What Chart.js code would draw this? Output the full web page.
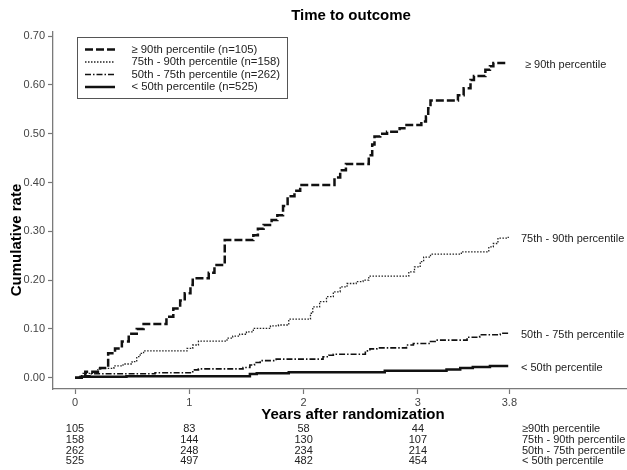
<!DOCTYPE html>
<html>
<head>
<meta charset="utf-8">
<script src="https://cdn.jsdelivr.net/npm/chart.js@4.4.0/dist/chart.umd.min.js"></script>
<style>
  html, body { margin: 0; padding: 0; background: #fff; }
  #wrap { width: 627px; height: 470px; }
</style>
</head>
<body>
<div id="wrap"><canvas id="chart"></canvas></div>
<script>
// === DATA ===
const legendLabels = [
  '\u2265 90th percentile (n=105)',
  '75th - 90th percentile (n=158)',
  '50th - 75th percentile (n=262)',
  '< 50th percentile (n=525)'
];
const endLabels = ['\u2265 90th percentile', '75th - 90th percentile', '50th - 75th percentile', '< 50th percentile'];
const tableLabels = ['\u226590th percentile', '75th - 90th percentile', '50th - 75th percentile', '< 50th percentile'];

// cumulative rate curves (time in years, rate)
const timesGE90 = [0, 0.09, 0.22, 0.29, 0.35, 0.41, 0.47, 0.54, 0.60, 0.80, 0.86, 0.92, 0.96, 1.01, 1.03, 1.17, 1.22, 1.31,
  1.56, 1.60, 1.65, 1.72, 1.77, 1.82, 1.86, 1.92, 1.97, 2.27, 2.32, 2.37, 2.57, 2.60, 2.62, 2.67, 2.73, 2.84, 2.90,
  3.03, 3.07, 3.09, 3.11, 3.35, 3.40, 3.46, 3.49, 3.59, 3.63, 3.66, 3.79];
const rateGE90 = [0, 0.012, 0.02, 0.05, 0.06, 0.074, 0.09, 0.10, 0.11, 0.125, 0.142, 0.158, 0.173, 0.19, 0.204, 0.215, 0.231, 0.282,
  0.292, 0.305, 0.313, 0.323, 0.333, 0.352, 0.372, 0.383, 0.395, 0.41, 0.425, 0.438, 0.456, 0.478, 0.494, 0.50, 0.504, 0.511, 0.518,
  0.525, 0.535, 0.552, 0.568, 0.579, 0.593, 0.61, 0.618, 0.631, 0.638, 0.645, 0.645];

const times75 = [0, 0.07, 0.20, 0.34, 0.42, 0.50, 0.54, 0.57, 0.60, 0.98, 1.03, 1.08, 1.33, 1.38, 1.44, 1.50, 1.56, 1.71, 1.78, 1.87,
  2.06, 2.08, 2.14, 2.20, 2.26, 2.32, 2.38, 2.46, 2.52, 2.57, 2.92, 2.97, 3.02, 3.05, 3.11, 3.38, 3.62, 3.66, 3.70, 3.79];
const rate75 = [0, 0.009, 0.019, 0.024, 0.028, 0.033, 0.043, 0.05, 0.055, 0.06, 0.067, 0.075, 0.081, 0.085, 0.089, 0.094, 0.101, 0.106, 0.108, 0.12,
  0.132, 0.145, 0.156, 0.166, 0.176, 0.186, 0.193, 0.197, 0.20, 0.208, 0.217, 0.227, 0.238, 0.247, 0.253, 0.258, 0.268, 0.275, 0.286, 0.289];

const times50 = [0, 0.04, 0.13, 0.70, 1.03, 1.08, 1.47, 1.53, 1.57, 1.62, 1.76, 2.17, 2.22, 2.26, 2.54, 2.58, 2.64, 2.90, 2.96,
  3.11, 3.16, 3.43, 3.54, 3.72, 3.79];
const rate50 = [0, 0.004, 0.008, 0.01, 0.016, 0.018, 0.021, 0.026, 0.031, 0.035, 0.038, 0.043, 0.046, 0.048, 0.055, 0.059, 0.061, 0.067, 0.07,
  0.074, 0.077, 0.083, 0.088, 0.091, 0.091];

const timesLT50 = [0, 0.05, 0.45, 1.53, 1.59, 1.87, 2.71, 3.25, 3.37, 3.48, 3.63, 3.79];
const rateLT50 = [0, 0.002, 0.003, 0.0075, 0.009, 0.011, 0.014, 0.017, 0.02, 0.022, 0.024, 0.024];

const xTicks = [0, 1, 2, 3, 3.8];
const yTicks = [0, 0.1, 0.2, 0.3, 0.4, 0.5, 0.6, 0.7];

// numbers at risk
const riskTimes = [0, 1, 2, 3];
const riskGE90 = [105, 83, 58, 44];
const risk75 = [158, 144, 130, 107];
const risk50 = [262, 248, 234, 214];
const riskLT50 = [525, 497, 482, 454];

const FONT = 'Arial, "Liberation Sans", Helvetica, sans-serif';

const toPoints = (xs, ys) => xs.map((t, i) => ({ x: t, y: ys[i] }));

// === EXTRA TEXT: title, axis titles, legend box, end labels, risk table ===
const annotations = {
  id: 'annotations',
  afterDraw(chart) {
    const ctx = chart.ctx;
    const xs = chart.scales.x, ys = chart.scales.y;
    const datasets = chart.data.datasets;
    ctx.save();

    ctx.fillStyle = '#000';
    ctx.textBaseline = 'middle';
    ctx.textAlign = 'center';
    ctx.font = 'bold 15px ' + FONT;
    ctx.fillText('Time to outcome', 351, 16);
    ctx.fillText('Years after randomization', 353, 415);
    ctx.save();
    ctx.translate(17, 240);
    ctx.rotate(-Math.PI / 2);
    ctx.fillText('Cumulative rate', 0, 0);
    ctx.restore();

    // legend
    ctx.setLineDash([]);
    ctx.lineWidth = 1;
    ctx.strokeStyle = '#555';
    ctx.strokeRect(77.5, 37.5, 210, 61);
    datasets.forEach((ds, i) => {
      const ly = 49.5 + i * 12.5;
      ctx.beginPath();
      ctx.setLineDash(ds.borderDash || []);
      ctx.lineWidth = ds.borderWidth;
      ctx.strokeStyle = ds.borderColor;
      ctx.moveTo(85, ly);
      ctx.lineTo(115, ly);
      ctx.stroke();
      ctx.setLineDash([]);
      ctx.font = '11.3px ' + FONT;
      ctx.textAlign = 'left';
      ctx.fillStyle = '#222';
      ctx.fillText(legendLabels[i], 131.5, ly);
    });

    // labels at curve ends
    ctx.font = '11px ' + FONT;
    ctx.fillStyle = '#222';
    ctx.textAlign = 'left';
    datasets.forEach((ds, i) => {
      const last = ds.data[ds.data.length - 1];
      ctx.fillText(endLabels[i], i === 0 ? 525 : 521, ys.getPixelForValue(last.y) + 2);
    });

    // risk table
    const rows = [riskGE90, risk75, risk50, riskLT50];
    rows.forEach((row, i) => {
      const ry = 429 + i * 10.8;
      ctx.textAlign = 'center';
      row.forEach((n, j) => ctx.fillText(String(n), xs.getPixelForValue(riskTimes[j]), ry));
      ctx.textAlign = 'left';
      ctx.fillText(tableLabels[i], 522, ry);
    });

    ctx.restore();
  }
};

const ctx = document.getElementById('chart').getContext('2d');
const chart = new Chart(ctx, {
  type: 'line',
  data: {
    datasets: [
      { label: legendLabels[0], data: toPoints(timesGE90, rateGE90), borderColor: '#111', borderWidth: 2.5, borderDash: [8, 3] },
      { label: legendLabels[1], data: toPoints(times75, rate75), borderColor: '#222', borderWidth: 1.3, borderDash: [1.5, 1.5] },
      { label: legendLabels[2], data: toPoints(times50, rate50), borderColor: '#111', borderWidth: 1.6, borderDash: [6, 2, 1.5, 2] },
      { label: legendLabels[3], data: toPoints(timesLT50, rateLT50), borderColor: '#111', borderWidth: 2.5 }
    ].map(ds => Object.assign(ds, { stepped: true, pointRadius: 0, fill: false, tension: 0 }))
  },
  options: {
    responsive: true,
    maintainAspectRatio: false,
    animation: false,
    layout: { padding: { top: 32, left: 0, right: 0, bottom: 0 } },
    plugins: {
      legend: { display: false },
      title: { display: false },
      tooltip: { enabled: false }
    },
    scales: {
      x: {
        type: 'linear',
        min: -0.1925,
        max: 4.829,
        afterBuildTicks: (s) => { s.ticks = xTicks.map(v => ({ value: v })); },
        afterFit: (s) => { s.height = 81; },
        ticks: {
          autoSkip: false,
          maxRotation: 0,
          padding: 2,
          color: '#444',
          font: { family: FONT, size: 11 },
          callback: (v) => String(v)
        },
        grid: { display: true, drawOnChartArea: false, drawTicks: true, tickLength: 5, color: '#777', tickWidth: 1.2 },
        border: { display: true, color: '#7a7a7a', width: 1.3 }
      },
      y: {
        min: -0.0232,
        max: 0.7084,
        afterBuildTicks: (s) => { s.ticks = yTicks.map(v => ({ value: v })); },
        afterFit: (s) => { s.width = 53; },
        ticks: {
          padding: 3,
          color: '#444',
          font: { family: FONT, size: 11 },
          callback: (v) => v.toFixed(2)
        },
        grid: { display: true, drawOnChartArea: false, drawTicks: true, tickLength: 5, color: '#777', tickWidth: 1.2 },
        border: { display: true, color: '#7a7a7a', width: 1.3 }
      }
    }
  },
  plugins: [annotations]
});
</script>
</body>
</html>
